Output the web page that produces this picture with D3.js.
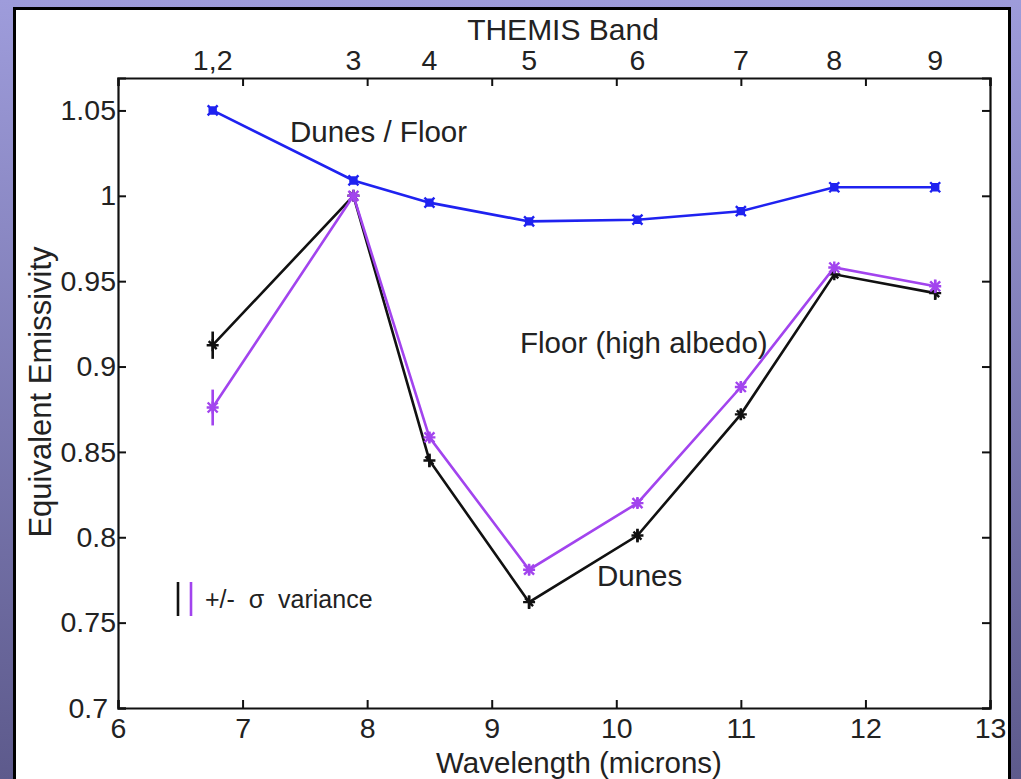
<!DOCTYPE html>
<html>
<head>
<meta charset="utf-8">
<script src="https://d3js.org/d3.v7.min.js"></script>
<style>
  body { margin: 0; padding: 0; overflow: hidden; }
  svg { display: block; font-family: "Liberation Sans", Arial, sans-serif; }
</style>
</head>
<body>
<div id="chart"></div>
<script>
// wavelength (microns) of each THEMIS band point
var wavelength = [6.76, 7.89, 8.5, 9.3, 10.17, 11.0, 11.75, 12.56];
var bandLabels = ["1,2", "3", "4", "5", "6", "7", "8", "9"];

var ratio = [1.050, 1.009, 0.996, 0.985, 0.986, 0.991, 1.005, 1.005];      // Dunes / Floor
var dunes = [0.9125, 1.000, 0.845, 0.762, 0.801, 0.872, 0.954, 0.943];     // Dunes
var dunesErr = [0.008, 0.002, 0.004, 0.004, 0.004, 0.003, 0.002, 0.004];
var floor = [0.876, 1.000, 0.8585, 0.781, 0.820, 0.888, 0.958, 0.947];     // Floor (high albedo)
var floorErr = [0.0105, 0.002, 0.003, 0.003, 0.003, 0.003, 0.002, 0.004];

var xTicks = [6, 7, 8, 9, 10, 11, 12, 13];
var yTicks = [0.7, 0.75, 0.8, 0.85, 0.9, 0.95, 1, 1.05];

var W = 1021, H = 779;
var plot = { left: 118, right: 990, top: 78, bottom: 708 };

var svg = d3.select("#chart").append("svg")
    .attr("width", W)
    .attr("height", H);

// slide background
var grad = svg.append("defs").append("linearGradient")
    .attr("id", "bg").attr("x1", 0).attr("y1", 0).attr("x2", 0).attr("y2", 1);
grad.append("stop").attr("offset", "0%").attr("stop-color", "#9e9cdb");
grad.append("stop").attr("offset", "100%").attr("stop-color", "#5d5a8c");
svg.append("rect").attr("width", W).attr("height", H).attr("fill", "url(#bg)");

// white panel
svg.append("rect")
    .attr("x", 14.5).attr("y", 8.5)
    .attr("width", 995).attr("height", 790)
    .attr("fill", "white")
    .attr("stroke", "black")
    .attr("stroke-width", 3);

var x = d3.scaleLinear().domain([6, 13]).range([plot.left, plot.right]);
var y = d3.scaleLinear().domain([0.7, 1.069]).range([plot.bottom, plot.top]);

var fmt = function (d) { return d3.format("")(+d.toFixed(2)); };

// bottom axis, ticks pointing inward
var gb = svg.append("g").attr("transform", "translate(0," + plot.bottom + ")")
    .call(d3.axisBottom(x).tickValues(xTicks).tickSize(-8).tickPadding(10).tickFormat(fmt));
// top axis: ticks on wavelength, labels on bands
var gt = svg.append("g").attr("transform", "translate(0," + plot.top + ")")
    .call(d3.axisTop(x).tickValues(xTicks).tickSize(-8).tickFormat(""));
var gl = svg.append("g").attr("transform", "translate(" + plot.left + ",0)")
    .call(d3.axisLeft(y).tickValues(yTicks).tickSize(-8).tickPadding(5).tickFormat(fmt));
var gr = svg.append("g").attr("transform", "translate(" + plot.right + ",0)")
    .call(d3.axisRight(y).tickValues(yTicks).tickSize(-8).tickFormat(""));

svg.selectAll(".domain").attr("stroke", "#111").attr("stroke-width", 2.2);
svg.selectAll(".tick line").attr("stroke", "#111").attr("stroke-width", 2);
svg.selectAll(".tick text")
    .attr("font-family", "Liberation Sans, Arial, sans-serif")
    .attr("font-size", 28.5)
    .attr("fill", "#222");
gb.selectAll(".tick text").attr("dy", "0.71em");
gl.selectAll(".tick text").attr("x", function (d) { return d === 0.7 ? -10 : -2; });

// band labels along the top
svg.append("g").selectAll("text")
    .data(bandLabels)
    .enter().append("text")
    .attr("x", function (d, i) { return x(wavelength[i]); })
    .attr("y", 70)
    .attr("text-anchor", "middle")
    .attr("font-size", 28.5)
    .attr("fill", "#222")
    .text(function (d) { return d; });

svg.append("text")
    .attr("x", 563).attr("y", 40)
    .attr("text-anchor", "middle")
    .attr("font-size", 30)
    .attr("fill", "#222")
    .text("THEMIS Band");

svg.append("text")
    .attr("x", 579).attr("y", 773)
    .attr("text-anchor", "middle")
    .attr("font-size", 29.5)
    .attr("fill", "#222")
    .text("Wavelength (microns)");

svg.append("text")
    .attr("transform", "translate(51,392) rotate(-90)")
    .attr("text-anchor", "middle")
    .attr("font-size", 31)
    .attr("fill", "#222")
    .text("Equivalent Emissivity");

// series
var line = d3.line()
    .x(function (d, i) { return x(wavelength[i]); })
    .y(function (d) { return y(d); });

function drawSeries(vals, errs, color, marker) {
    var g = svg.append("g");
    g.append("path")
        .datum(vals)
        .attr("fill", "none")
        .attr("stroke", color)
        .attr("stroke-width", 2.6)
        .attr("d", line);
    if (errs) {
        g.selectAll(".err").data(vals).enter().append("line")
            .attr("x1", function (d, i) { return x(wavelength[i]); })
            .attr("x2", function (d, i) { return x(wavelength[i]); })
            .attr("y1", function (d, i) { return y(d - errs[i]); })
            .attr("y2", function (d, i) { return y(d + errs[i]); })
            .attr("stroke", color)
            .attr("stroke-width", 2.6);
    }
    g.selectAll(".mk").data(vals).enter().append("path")
        .attr("transform", function (d, i) {
            return "translate(" + x(wavelength[i]) + "," + y(d) + ")";
        })
        .attr("d", marker)
        .attr("fill", color)
        .attr("stroke", color)
        .attr("stroke-width", 2.4);
}

var xMark = "M-5,-5L5,5M-5,5L5,-5M-3,-3h6v6h-6z";
var starMark = "M-5,-5L5,5M-5,5L5,-5M0,-6V6M-6,0H6";
var plusMark = "M0,-6V6M-6,0H6M-4,-4L4,4";

drawSeries(ratio, null, "#1f22f0", xMark);
drawSeries(dunes, dunesErr, "#111111", plusMark);
drawSeries(floor, floorErr, "#a244ee", starMark);

// annotations
var notes = [
    { t: "Dunes / Floor", x: 290, y: 142 },
    { t: "Floor (high albedo)", x: 520, y: 353 },
    { t: "Dunes", x: 597, y: 586 }
];
svg.append("g").selectAll("text").data(notes).enter().append("text")
    .attr("x", function (d) { return d.x; })
    .attr("y", function (d) { return d.y; })
    .attr("font-size", 29.5)
    .attr("fill", "#222")
    .text(function (d) { return d.t; });

// legend for the error bars
svg.append("line").attr("x1", 178).attr("x2", 178).attr("y1", 582).attr("y2", 616)
    .attr("stroke", "#111").attr("stroke-width", 2.6);
svg.append("line").attr("x1", 191).attr("x2", 191).attr("y1", 582).attr("y2", 616)
    .attr("stroke", "#a244ee").attr("stroke-width", 2.6);
svg.append("text")
    .attr("x", 205).attr("y", 608)
    .attr("font-size", 25)
    .attr("fill", "#222")
    .attr("xml:space", "preserve")
    .text("+/-  \u03c3  variance");
</script>
</body>
</html>
